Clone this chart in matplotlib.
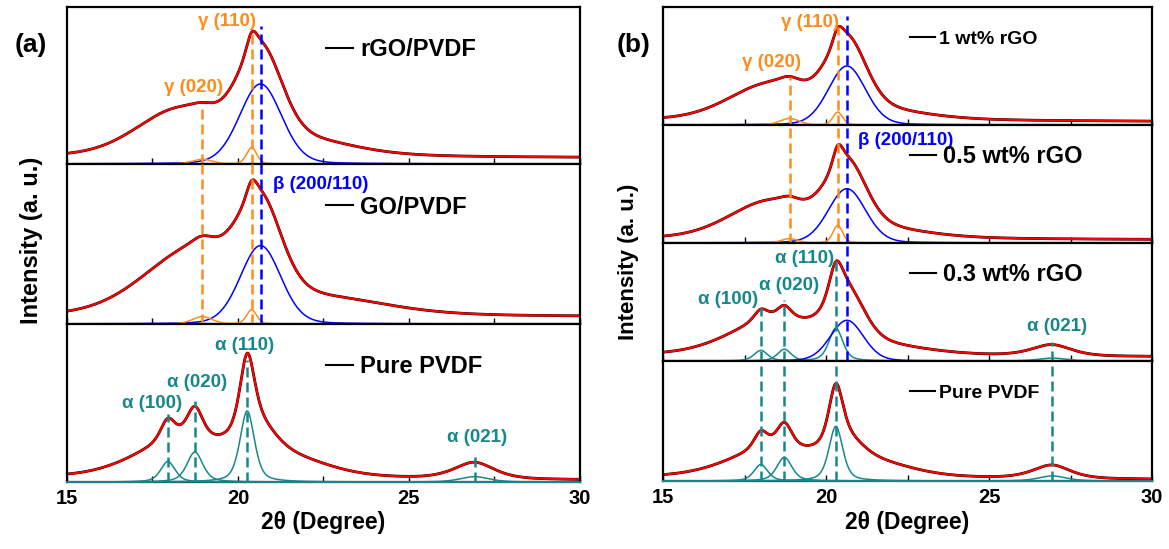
import numpy as np
import matplotlib.pyplot as plt
from matplotlib.lines import Line2D

plt.rcParams['font.family'] = ['Liberation Sans', 'DejaVu Sans']
plt.rcParams['font.weight'] = 'bold'

RED = '#ff0000'
BLUE = '#0000ff'
ORANGE = '#ff8c1a'
TEAL = '#17888a'

# fitted peaks: (centre 2theta, height, fwhm, lorentz share)
# heights are in units of the sub-panel height

# (a) rGO/PVDF
a_rgo_beta = [(20.66, 0.51, 1.45, 0.15)]
a_rgo_gamma = [(18.96, 0.03, 0.7, 0.3), (20.40, 0.105, 0.35, 0.3)]
a_rgo_rest = [(18.3, 0.29, 3.0, 0.2), (20.6, 0.13, 2.4, 0.4), (22.5, 0.07, 3.0, 0.5)]
a_rgo_base = (0.045, 0.04)

# (a) GO/PVDF
a_go_beta = [(20.66, 0.49, 1.4, 0.15)]
a_go_gamma = [(18.96, 0.046, 0.7, 0.3), (20.40, 0.09, 0.35, 0.3)]
a_go_rest = [(18.8, 0.42, 3.6, 0.2), (20.8, 0.05, 2.5, 0.4), (23.0, 0.09, 4.0, 0.5)]
a_go_base = (0.045, 0.045)

# (a) Pure PVDF
a_pure_alpha = [(17.95, 0.13, 0.5, 0.5), (18.74, 0.19, 0.55, 0.5),
                (20.27, 0.45, 0.5, 0.5), (26.92, 0.034, 1.0, 0.5)]
a_pure_rest = [(18.4, 0.24, 3.2, 0.3), (20.55, 0.24, 1.4, 0.5),
               (21.8, 0.09, 2.5, 0.5), (26.9, 0.07, 1.6, 0.3)]
a_pure_base = (0.025, 0.012)

# (b) 1 wt% rGO
b_1_beta = [(20.64, 0.50, 1.35, 0.15)]
b_1_gamma = [(18.88, 0.056, 0.7, 0.3), (20.36, 0.11, 0.35, 0.3)]
b_1_rest = [(18.3, 0.30, 3.0, 0.2), (20.6, 0.14, 2.2, 0.4), (22.3, 0.05, 3.0, 0.5)]
b_1_base = (0.04, 0.03)

# (b) 0.5 wt% rGO
b_05_beta = [(20.64, 0.46, 1.35, 0.15)]
b_05_gamma = [(18.88, 0.037, 0.6, 0.3), (20.36, 0.15, 0.35, 0.3)]
b_05_rest = [(18.3, 0.31, 3.0, 0.2), (20.6, 0.14, 2.2, 0.4), (22.3, 0.05, 3.0, 0.5)]
b_05_base = (0.035, 0.028)

# (b) 0.3 wt% rGO
b_03_alpha = [(18.0, 0.09, 0.5, 0.5), (18.72, 0.10, 0.5, 0.5),
              (20.3, 0.28, 0.5, 0.5), (26.94, 0.025, 1.0, 0.5)]
b_03_beta = [(20.64, 0.345, 1.2, 0.15)]
b_03_rest = [(18.4, 0.30, 3.2, 0.3), (20.6, 0.12, 2.2, 0.4),
             (22.3, 0.05, 3.0, 0.5), (26.9, 0.07, 1.6, 0.3)]
b_03_base = (0.045, 0.035)

# (b) Pure PVDF
b_pure_alpha = [(18.0, 0.138, 0.5, 0.5), (18.72, 0.197, 0.55, 0.5),
                (20.3, 0.456, 0.5, 0.5), (26.94, 0.042, 1.0, 0.5)]
b_pure_rest = [(18.4, 0.24, 3.2, 0.3), (20.58, 0.23, 1.4, 0.5),
               (21.8, 0.09, 2.5, 0.5), (26.9, 0.07, 1.6, 0.3)]
b_pure_base = (0.028, 0.012)

x = np.linspace(15, 30, 1501)


def pv(c, h, w, eta):
    g = np.exp(-4 * np.log(2) * ((x - c) / w) ** 2)
    l = 1 / (1 + (2 * (x - c) / w) ** 2)
    return h * (eta * l + (1 - eta) * g)


def panel(ax, groups, rest, base, label, fs, handlelen, pad):
    total = base[0] + (base[1] - base[0]) * (x - 15) / 15
    for peaks, col in groups:
        for p in peaks:
            total = total + pv(*p)
    for p in rest:
        total = total + pv(*p)
    ax.plot(x, total, color='k', lw=2.0)
    ax.plot(x, total, color=RED, lw=1.5)
    for peaks, col in groups:
        for p in peaks:
            ax.plot(x, pv(*p), color=col, lw=1.1, clip_on=False, zorder=3)
    ax.set_xlim(15, 30)
    ax.set_ylim(0, 1)
    ax.set_yticks([])
    ax.set_xticks([15, 20, 25, 30])
    ax.set_xticks([17.5, 22.5, 27.5], minor=True)
    ax.tick_params(axis='x', which='both', direction='in', length=4, width=1,
                   labelsize=14.5, pad=5, labelbottom=False)
    for s in ax.spines.values():
        s.set_linewidth(1.6)
    h = Line2D([], [], color='k', lw=1.5)
    ax.legend([h], [label], frameon=False, fontsize=fs, handlelength=handlelen,
              handletextpad=pad, loc='center left', bbox_to_anchor=(0.505, 0.73),
              borderaxespad=0, borderpad=0)


def vline(ax, xpos, col, top):
    ax.axvline(xpos, 0, top, color=col, lw=1.8, ls=(0, (4, 2)), zorder=4, clip_on=False)


def note(ax, xpos, ypos, s, col, ha='center'):
    ax.text(xpos, ypos, s, color=col, fontsize=13.5, ha=ha, va='center',
            transform=ax.get_xaxis_transform())


fig = plt.figure(figsize=(11.69, 5.49), dpi=100)

ya = [0.9872, 0.7013, 0.4098, 0.122]
axa = [fig.add_axes([0.0573, ya[i + 1], 0.4388, ya[i] - ya[i + 1]]) for i in range(3)]
yb = [0.9872, 0.7723, 0.5574, 0.3424, 0.1239]
axb = [fig.add_axes([0.5672, yb[i + 1], 0.4183, yb[i] - yb[i + 1]]) for i in range(4)]

panel(axa[0], [(a_rgo_beta, BLUE), (a_rgo_gamma, ORANGE)], a_rgo_rest, a_rgo_base,
      'rGO/PVDF', 17, 1.15, 0.3)
panel(axa[1], [(a_go_beta, BLUE), (a_go_gamma, ORANGE)], a_go_rest, a_go_base,
      'GO/PVDF', 17, 1.15, 0.3)
panel(axa[2], [(a_pure_alpha, TEAL)], a_pure_rest, a_pure_base,
      'Pure PVDF', 17, 1.15, 0.3)

panel(axb[0], [(b_1_beta, BLUE), (b_1_gamma, ORANGE)], b_1_rest, b_1_base,
      '1 wt% rGO', 14, 1.3, 0.2)
panel(axb[1], [(b_05_beta, BLUE), (b_05_gamma, ORANGE)], b_05_rest, b_05_base,
      '0.5 wt% rGO', 17, 1.1, 0.3)
panel(axb[2], [(b_03_alpha, TEAL), (b_03_beta, BLUE)], b_03_rest, b_03_base,
      '0.3 wt% rGO', 17, 1.1, 0.3)
panel(axb[3], [(b_pure_alpha, TEAL)], b_pure_rest, b_pure_base,
      'Pure PVDF', 14, 1.3, 0.2)

for ax in (axa[2], axb[3]):
    ax.tick_params(axis='x', labelbottom=True)

# (a) dashed guides
vline(axa[0], 18.96, ORANGE, 0.38)
vline(axa[1], 18.96, ORANGE, 1)
vline(axa[0], 20.40, ORANGE, 0.83)
vline(axa[1], 20.40, ORANGE, 1)
vline(axa[0], 20.66, BLUE, 0.88)
vline(axa[1], 20.66, BLUE, 1)
vline(axa[2], 17.95, TEAL, 0.43)
vline(axa[2], 18.74, TEAL, 0.51)
vline(axa[2], 20.27, TEAL, 0.77)
vline(axa[2], 26.92, TEAL, 0.18)

note(axa[0], 19.68, 0.905, 'γ (110)', ORANGE)
note(axa[0], 18.71, 0.49, 'γ (020)', ORANGE)
note(axa[1], 21.02, 0.87, 'β (200/110)', BLUE, ha='left')
note(axa[2], 20.18, 0.867, 'α (110)', TEAL)
note(axa[2], 18.80, 0.627, 'α (020)', TEAL)
note(axa[2], 17.50, 0.50, 'α (100)', TEAL)
note(axa[2], 27.00, 0.28, 'α (021)', TEAL)

# (b) dashed guides
vline(axb[0], 18.88, ORANGE, 0.41)
vline(axb[1], 18.88, ORANGE, 1)
vline(axb[0], 20.36, ORANGE, 0.83)
vline(axb[1], 20.36, ORANGE, 1)
vline(axb[0], 20.64, BLUE, 0.92)
vline(axb[1], 20.64, BLUE, 1)
vline(axb[2], 20.64, BLUE, 1)
vline(axb[2], 18.0, TEAL, 0.45)
vline(axb[3], 18.0, TEAL, 1)
vline(axb[2], 18.72, TEAL, 0.52)
vline(axb[3], 18.72, TEAL, 1)
vline(axb[2], 20.3, TEAL, 0.85)
vline(axb[3], 20.3, TEAL, 1)
vline(axb[2], 26.94, TEAL, 0.16)
vline(axb[3], 26.94, TEAL, 1)

note(axb[0], 19.5, 0.87, 'γ (110)', ORANGE)
note(axb[0], 18.34, 0.53, 'γ (020)', ORANGE)
note(axb[1], 20.98, 0.87, 'β (200/110)', BLUE, ha='left')
note(axb[2], 19.33, 0.87, 'α (110)', TEAL)
note(axb[2], 18.86, 0.64, 'α (020)', TEAL)
note(axb[2], 17.0, 0.52, 'α (100)', TEAL)
note(axb[2], 27.1, 0.29, 'α (021)', TEAL)

fig.text(0.026, 0.918, '(a)', fontsize=19, ha='center', va='center')
fig.text(0.542, 0.918, '(b)', fontsize=19, ha='center', va='center')
fig.text(0.2767, 0.049, '2θ (Degree)', fontsize=16.5, ha='center', va='center')
fig.text(0.7764, 0.049, '2θ (Degree)', fontsize=16.5, ha='center', va='center')
fig.text(0.027, 0.563, 'Intensity (a. u.)', fontsize=17, ha='center', va='center',
         rotation=90)
fig.text(0.538, 0.523, 'Intensity (a. u.)', fontsize=16, ha='center', va='center',
         rotation=90)

fig.savefig('out.png', dpi=100)
